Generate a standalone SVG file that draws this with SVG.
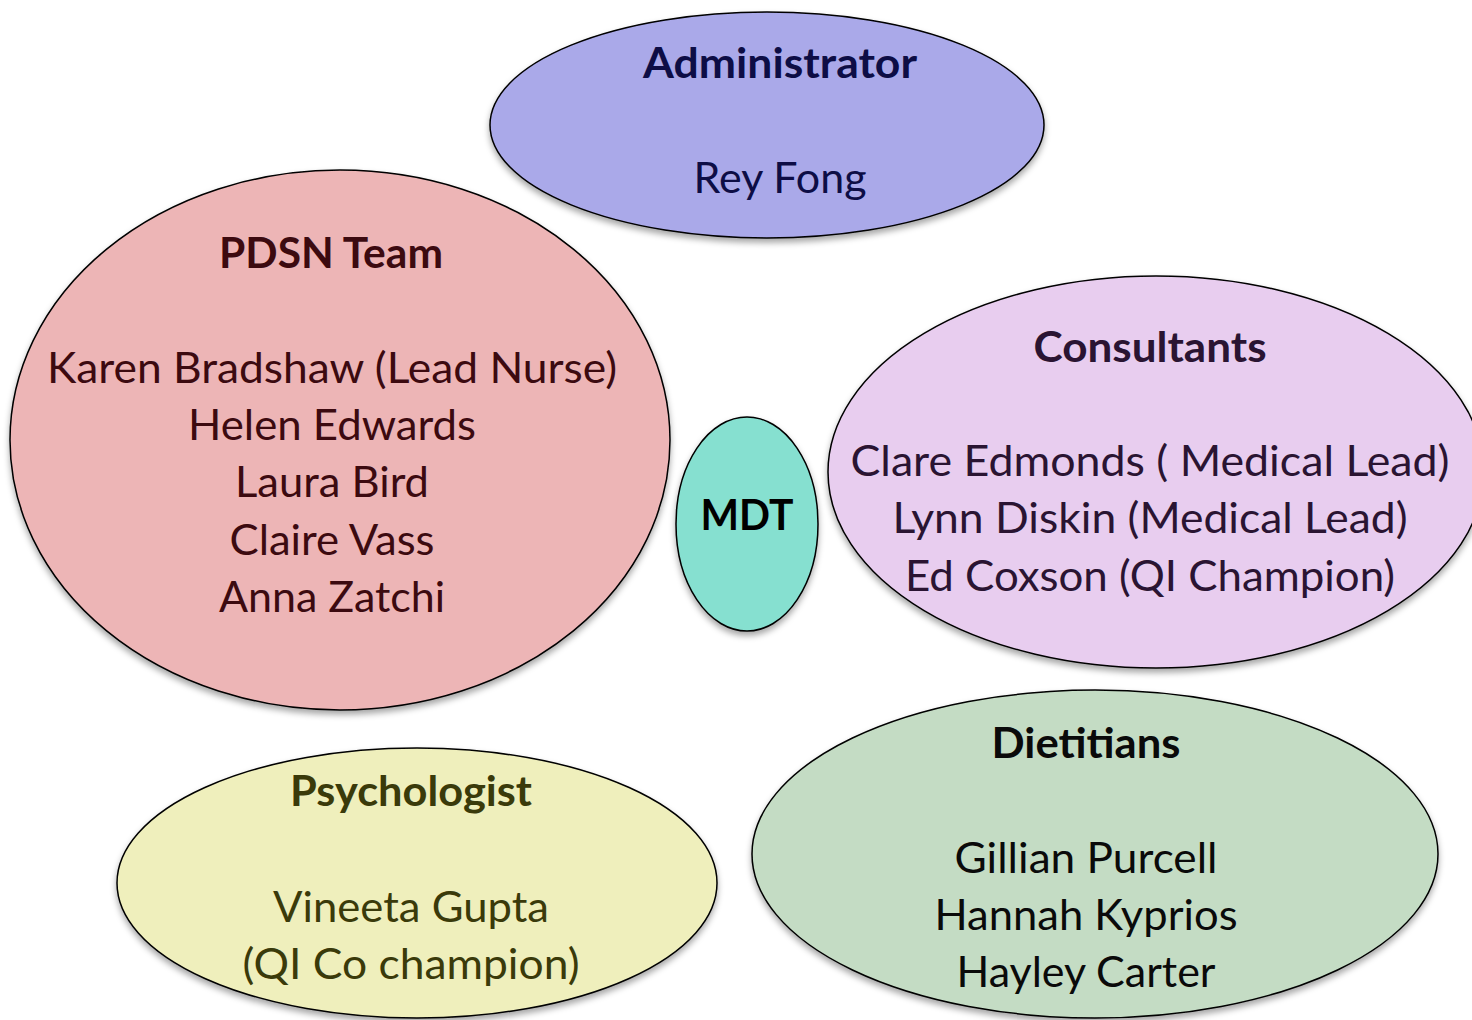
<svg xmlns="http://www.w3.org/2000/svg" width="1472" height="1020" viewBox="0 0 1472 1020">
  <defs>
    <filter id="shadow" x="-10%" y="-10%" width="120%" height="125%">
      <feDropShadow dx="0" dy="4" stdDeviation="3" flood-color="#000" flood-opacity="0.35"/>
    </filter>
    <style>
      .bubble { stroke: #000; stroke-width: 1.5; filter: url(#shadow); }
      text { font-family: Lato, "Open Sans", "Liberation Sans", sans-serif; text-anchor: middle; }
      .title { font-weight: bold; font-size: 42px; }
      .name { font-size: 42px; }
    </style>
  </defs>
  <rect width="1472" height="1020" fill="#fff"/>

  <g id="connectors"/>

  <g id="pdsn">
    <ellipse class="bubble" cx="340" cy="440" rx="330" ry="270" fill="#edb5b6"/>
    <g fill="#3c0a10">
      <text class="title" x="331" y="268" textLength="224" lengthAdjust="spacingAndGlyphs">PDSN Team</text>
      <text class="name" x="332" y="383" textLength="570" lengthAdjust="spacingAndGlyphs">Karen Bradshaw (Lead Nurse)</text>
      <text class="name" x="332" y="440" textLength="288" lengthAdjust="spacingAndGlyphs">Helen Edwards</text>
      <text class="name" x="332" y="497" textLength="194" lengthAdjust="spacingAndGlyphs">Laura Bird</text>
      <text class="name" x="332" y="555" textLength="205" lengthAdjust="spacingAndGlyphs">Claire Vass</text>
      <text class="name" x="332" y="612" textLength="226" lengthAdjust="spacingAndGlyphs">Anna Zatchi</text>
    </g>
  </g>

  <g id="administrator">
    <ellipse class="bubble" cx="767" cy="125" rx="277" ry="113" fill="#aaa9e9"/>
    <g fill="#0d0d45">
      <text class="title" x="780" y="78" textLength="274" lengthAdjust="spacingAndGlyphs">Administrator</text>
      <text class="name" x="780" y="193" textLength="173" lengthAdjust="spacingAndGlyphs">Rey Fong</text>
    </g>
  </g>

  <g id="mdt">
    <ellipse class="bubble" cx="747" cy="524" rx="71" ry="107" fill="#86e0d0"/>
    <text class="title" x="747" y="530" fill="#000" textLength="93" lengthAdjust="spacingAndGlyphs">MDT</text>
  </g>

  <g id="consultants">
    <ellipse class="bubble" cx="1156" cy="472" rx="328" ry="196" fill="#e8cdef"/>
    <g fill="#2a1432">
      <text class="title" x="1150" y="362" textLength="233" lengthAdjust="spacingAndGlyphs">Consultants</text>
      <text class="name" x="1150" y="476" textLength="599" lengthAdjust="spacingAndGlyphs">Clare Edmonds ( Medical Lead)</text>
      <text class="name" x="1150" y="533" textLength="515" lengthAdjust="spacingAndGlyphs">Lynn Diskin (Medical Lead)</text>
      <text class="name" x="1150" y="591" textLength="490" lengthAdjust="spacingAndGlyphs">Ed Coxson (QI Champion)</text>
    </g>
  </g>

  <g id="psychologist">
    <ellipse class="bubble" cx="417" cy="883" rx="300" ry="135" fill="#efefbc"/>
    <g fill="#3a3a0a">
      <text class="title" x="411" y="806" textLength="242" lengthAdjust="spacingAndGlyphs">Psychologist</text>
      <text class="name" x="411" y="922" textLength="276" lengthAdjust="spacingAndGlyphs">Vineeta Gupta</text>
      <text class="name" x="411" y="979" textLength="337" lengthAdjust="spacingAndGlyphs">(QI Co champion)</text>
    </g>
  </g>

  <g id="dietitians">
    <ellipse class="bubble" cx="1095" cy="854" rx="343" ry="164" fill="#c4dcc4"/>
    <g fill="#0a0a0a">
      <text class="title" x="1086" y="758" textLength="189" lengthAdjust="spacingAndGlyphs">Dietitians</text>
      <text class="name" x="1086" y="873" textLength="263" lengthAdjust="spacingAndGlyphs">Gillian Purcell</text>
      <text class="name" x="1086" y="930" textLength="303" lengthAdjust="spacingAndGlyphs">Hannah Kyprios</text>
      <text class="name" x="1086" y="987" textLength="259" lengthAdjust="spacingAndGlyphs">Hayley Carter</text>
    </g>
  </g>
</svg>
